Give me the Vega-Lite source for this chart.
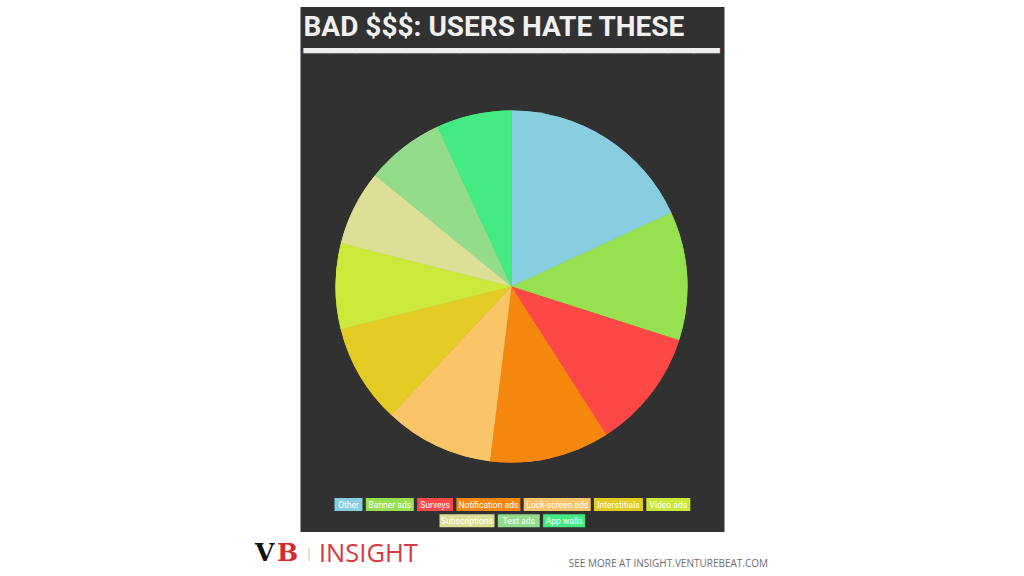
{
  "$schema": "https://vega.github.io/schema/vega-lite/v6.json",
  "background": "#ffffff",
  "padding": {"left": 255, "top": 7, "right": 0, "bottom": 0},
  "spacing": 0,
  "center": true,
  "params": [
    {"name": "boxw", "expr": "{'Other': 28, 'Banner ads': 48, 'Surveys': 36, 'Notification ads': 64, 'Lock-screen ads': 67, 'Interstitials': 49, 'Video ads': 44, 'Subscriptions': 55, 'Text ads': 42, 'App walls': 42}"},
    {"name": "cmap", "expr": "{'Other': '#87cee0', 'Banner ads': '#97e050', 'Surveys': '#fe4747', 'Notification ads': '#f5870f', 'Lock-screen ads': '#f9c568', 'Interstitials': '#e4cb24', 'Video ads': '#cce83b', 'Subscriptions': '#dedf97', 'Text ads': '#93dc8b', 'App walls': '#44ea82'}"}
  ],
  "vconcat": [
    {
      "width": 424,
      "height": 525,
      "view": {"fill": "#313131", "stroke": null},
      "title": {
        "text": "BAD $$$: USERS HATE THESE",
        "subtitle": "▔▔▔▔▔▔▔▔▔▔▔▔▔▔▔▔",
        "anchor": "start",
        "frame": "group",
        "offset": -79.5,
        "dx": 3,
        "font": "Roboto",
        "fontWeight": "bold",
        "fontSize": 28,
        "color": "#f0f0f0",
        "subtitleFont": "DejaVu Sans",
        "subtitleFontSize": 33.8,
        "subtitleColor": "#eeeeee",
        "subtitlePadding": 10.5
      },
      "data": {
        "values": [
          {"type": "Other", "pct": 18.1, "n": 1},
          {"type": "Banner ads", "pct": 11.8, "n": 2},
          {"type": "Surveys", "pct": 11.0, "n": 3},
          {"type": "Notification ads", "pct": 11.0, "n": 4},
          {"type": "Lock-screen ads", "pct": 10.0, "n": 5},
          {"type": "Interstitials", "pct": 9.1, "n": 6},
          {"type": "Video ads", "pct": 7.9, "n": 7},
          {"type": "Subscriptions", "pct": 6.9, "n": 8},
          {"type": "Text ads", "pct": 7.2, "n": 9},
          {"type": "App walls", "pct": 6.9, "n": 10}
        ]
      },
      "encoding": {
        "theta": {"field": "pct", "type": "quantitative", "stack": true},
        "order": {"field": "n", "type": "quantitative"}
      },
      "layer": [
        {
          "mark": {"type": "arc", "outerRadius": 176, "yOffset": 17, "xOffset": -1},
          "encoding": {
            "color": {
              "field": "type",
              "type": "nominal",
              "scale": {
                "domain": ["Other", "Banner ads", "Surveys", "Notification ads", "Lock-screen ads", "Interstitials", "Video ads", "Subscriptions", "Text ads", "App walls"],
                "range": ["#87cee0", "#97e050", "#fe4747", "#f5870f", "#f9c568", "#e4cb24", "#cce83b", "#dedf97", "#93dc8b", "#44ea82"]
              },
              "legend": {
                "title": null,
                "orient": "bottom",
                "direction": "horizontal",
                "offset": -34,
                "values": ["Other", "Banner ads", "Surveys", "Notification ads", "Lock-screen ads", "Interstitials", "Video ads"],
                "encode": {
                  "symbols": {"update": {
                    "shape": {"signal": "'M-1,-1H' + (boxw[datum.value] / 6.5 - 1) + 'V1H-1Z'"},
                    "fill": {"signal": "cmap[datum.value]"},
                    "fillOpacity": {"value": 1},
                    "strokeWidth": {"value": 0}
                  }},
                  "labels": {"update": {
                    "align": {"value": "center"},
                    "dx": {"signal": "boxw[datum.value] / 2 - 13"}
                  }}
                }
              }
            }
          }
        },
        {
          "mark": {"type": "arc", "outerRadius": 176, "yOffset": 17, "xOffset": -1},
          "encoding": {
            "color": {
              "field": "type",
              "type": "nominal",
              "scale": {
                "domain": ["Other", "Banner ads", "Surveys", "Notification ads", "Lock-screen ads", "Interstitials", "Video ads", "Subscriptions", "Text ads", "App walls"],
                "range": ["#87cee0", "#97e050", "#fe4747", "#f5870f", "#f9c568", "#e4cb24", "#cce83b", "#dedf97", "#93dc8b", "#44ea82"]
              },
              "legend": {
                "title": null,
                "orient": "bottom",
                "direction": "horizontal",
                "offset": -34,
                "values": ["Subscriptions", "Text ads", "App walls"],
                "encode": {
                  "symbols": {"update": {
                    "shape": {"signal": "'M-1,-1H' + (boxw[datum.value] / 6.5 - 1) + 'V1H-1Z'"},
                    "fill": {"signal": "cmap[datum.value]"},
                    "fillOpacity": {"value": 1},
                    "strokeWidth": {"value": 0}
                  }},
                  "labels": {"update": {
                    "align": {"value": "center"},
                    "dx": {"signal": "boxw[datum.value] / 2 - 13"}
                  }}
                }
              }
            }
          }
        }
      ],
      "resolve": {"scale": {"color": "independent"}, "legend": {"color": "independent"}}
    },
    {
      "width": 515,
      "height": 44,
      "view": {"fill": null, "stroke": null},
      "layer": [
        {
          "data": {"values": [{"t": "V"}]},
          "mark": {"type": "text", "x": 0, "y": 28.7, "align": "left", "baseline": "alphabetic", "font": "DejaVu Serif", "fontWeight": "bold", "fontSize": 25, "color": "#111111"},
          "encoding": {"text": {"field": "t"}}
        },
        {
          "data": {"values": [{"t": "B"}]},
          "mark": {"type": "text", "x": 22, "y": 28.7, "align": "left", "baseline": "alphabetic", "font": "DejaVu Serif", "fontWeight": "bold", "fontSize": 25, "color": "#d42a2f"},
          "encoding": {"text": {"field": "t"}}
        },
        {
          "data": {"values": [{"t": "|"}]},
          "mark": {"type": "text", "x": 54, "y": 25.5, "align": "center", "baseline": "alphabetic", "font": "Open Sans", "fontSize": 12, "color": "#b5b5b5"},
          "encoding": {"text": {"field": "t"}}
        },
        {
          "data": {"values": [{"t": "INSIGHT"}]},
          "mark": {"type": "text", "x": 64, "y": 30, "align": "left", "baseline": "alphabetic", "font": "Open Sans", "fontSize": 25.5, "color": "#d63a3f"},
          "encoding": {"text": {"field": "t"}}
        },
        {
          "data": {"values": [{"t": "SEE MORE AT INSIGHT.VENTUREBEAT.COM"}]},
          "mark": {"type": "text", "x": 513, "y": 35, "align": "right", "baseline": "alphabetic", "font": "Open Sans", "fontSize": 10, "color": "#6e6e6e"},
          "encoding": {"text": {"field": "t"}}
        }
      ]
    }
  ],
  "config": {
    "view": {"stroke": null},
    "legend": {
      "labelColor": "#ffffff",
      "labelFont": "Roboto",
      "labelFontSize": 8.5,
      "symbolSize": 169,
      "symbolStrokeWidth": 0,
      "labelOffset": 0,
      "columnPadding": 3.3,
      "padding": 0,
      "offset": -34,
      "labelLimit": 200,
      "layout": {"bottom": {"anchor": "middle", "direction": "vertical", "center": true, "margin": 3.3, "offset": -34}}
    }
  }
}
